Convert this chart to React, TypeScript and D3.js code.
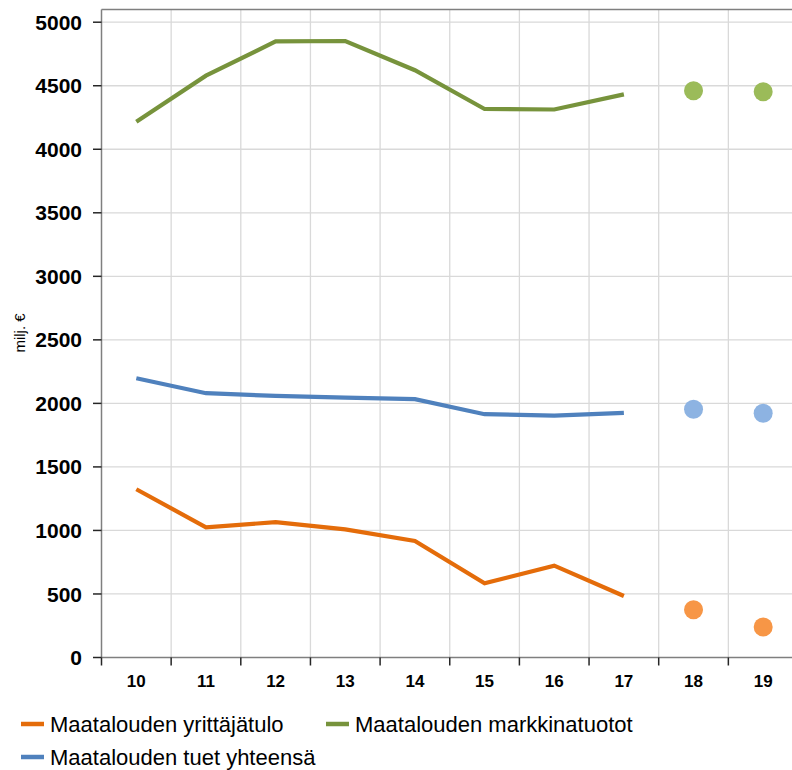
import React from "react";
import * as d3 from "d3";

const WIDTH = 792;
const HEIGHT = 770;
const FONT = "'Liberation Sans', Arial, sans-serif";

// categories (years 2010..2019)
const years = ["10", "11", "12", "13", "14", "15", "16", "17", "18", "19"];
const lineYears = years.slice(0, 8);
const dotYears = years.slice(8);

// milj. €
const yrittajatulo = [1324, 1025, 1065, 1008, 917, 584, 723, 484];
const yrittajatuloEnnuste = [376, 240];
const markkinatuotot = [4217, 4579, 4849, 4852, 4622, 4317, 4313, 4432];
const markkinatuototEnnuste = [4461, 4453];
const tuet = [2198, 2080, 2059, 2046, 2033, 1915, 1904, 1925];
const tuetEnnuste = [1954, 1923];

const yTicks = [0, 500, 1000, 1500, 2000, 2500, 3000, 3500, 4000, 4500, 5000];

const series = [
    {name: "Maatalouden yrittäjätulo", values: yrittajatulo, forecast: yrittajatuloEnnuste, line: "#e46c0a", dot: "#f79646"},
    {name: "Maatalouden markkinatuotot", values: markkinatuotot, forecast: markkinatuototEnnuste, line: "#77933c", dot: "#9bbb59"},
    {name: "Maatalouden tuet yhteensä", values: tuet, forecast: tuetEnnuste, line: "#4f81bd", dot: "#8db3e2"},
];

const legendItems = [
    {name: series[0].name, color: series[0].line, x: 21, y: 724},
    {name: series[1].name, color: series[1].line, x: 326, y: 724},
    {name: series[2].name, color: series[2].line, x: 21, y: 757},
];

const PLOT_LEFT = 101.5;
const PLOT_RIGHT = 798;
const PLOT_TOP = 9.5;
const PLOT_BOTTOM = 657.5;

export default function App() {
    const x = d3.scaleBand<string>().domain(years).range([PLOT_LEFT, PLOT_RIGHT]);
    const y = d3.scaleLinear().domain([0, 5100]).range([PLOT_BOTTOM, PLOT_TOP]);
    const cx = (d: string) => (x(d) as number) + x.bandwidth() / 2;

    const line = d3.line<number>()
        .x((_, i) => cx(lineYears[i]))
        .y(d => y(d));

    const boundaries = years.map(d => x(d) as number).concat([PLOT_RIGHT]);

    return (
        <svg width={WIDTH} height={HEIGHT} style={{position: "absolute", left: 0, top: 0, display: "block"}}
             fontFamily={FONT}>
            <rect width={WIDTH} height={HEIGHT} fill="#fff"/>

            {/* grid */}
            <g stroke="#d9d9d9" strokeWidth={1.3}>
                {yTicks.slice(1).map(t => (
                    <line key={t} x1={PLOT_LEFT} x2={PLOT_RIGHT} y1={y(t)} y2={y(t)}/>
                ))}
                {boundaries.slice(1).map((b, i) => (
                    <line key={i} x1={b} x2={b} y1={PLOT_TOP} y2={PLOT_BOTTOM}/>
                ))}
            </g>

            {/* axes */}
            <g stroke="#7f7f7f" strokeWidth={1.5} fill="none">
                <line x1={PLOT_LEFT} x2={PLOT_RIGHT} y1={PLOT_TOP} y2={PLOT_TOP}/>
                <line x1={PLOT_LEFT} x2={PLOT_LEFT} y1={PLOT_TOP} y2={PLOT_BOTTOM}/>
                <line x1={PLOT_LEFT} x2={PLOT_RIGHT} y1={PLOT_BOTTOM} y2={PLOT_BOTTOM}/>
            </g>
            <g stroke="#262626" strokeWidth={1.5}>
                {yTicks.map(t => (
                    <line key={t} x1={93} x2={PLOT_LEFT} y1={y(t)} y2={y(t)}/>
                ))}
                {boundaries.map((b, i) => (
                    <line key={i} x1={b} x2={b} y1={PLOT_BOTTOM} y2={PLOT_BOTTOM + 8}/>
                ))}
            </g>

            {/* tick labels */}
            <g fontSize={21} fontWeight="bold" fill="#000" textAnchor="end">
                {yTicks.map(t => (
                    <text key={t} x={82} y={y(t)} dy="0.36em">{t}</text>
                ))}
            </g>
            <g fontSize={17} fontWeight="bold" fill="#000" textAnchor="middle">
                {years.map(d => (
                    <text key={d} x={cx(d)} y={687}>{d}</text>
                ))}
            </g>
            <text transform={`translate(20,333) rotate(-90)`} fontSize={15} textAnchor="middle" dy="0.35em"
                  fill="#000">milj. €
            </text>

            {/* series */}
            {series.map(s => (
                <g key={s.name}>
                    <path d={line(s.values) as string} fill="none" stroke={s.line} strokeWidth={4.2}/>
                    {s.forecast.map((v, i) => (
                        <circle key={i} cx={cx(dotYears[i])} cy={y(v)} r={9.5} fill={s.dot}/>
                    ))}
                </g>
            ))}

            {/* legend */}
            {legendItems.map(l => (
                <g key={l.name}>
                    <line x1={l.x} x2={l.x + 23} y1={l.y} y2={l.y} stroke={l.color} strokeWidth={4.5}/>
                    <text x={l.x + 29} y={l.y} dy="0.36em" fontSize={22} fill="#000">{l.name}</text>
                </g>
            ))}
        </svg>
    );
}
